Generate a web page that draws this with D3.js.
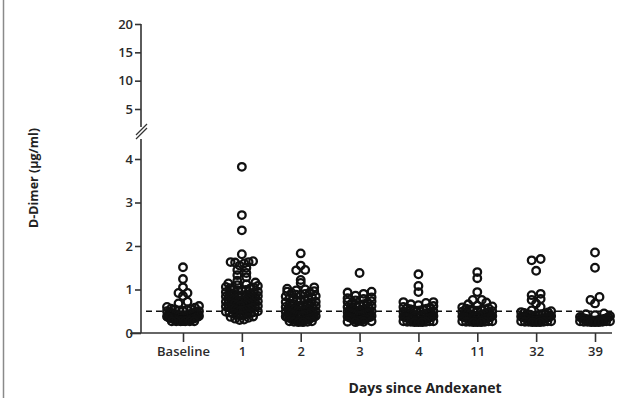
<!DOCTYPE html>
<html><head><meta charset="utf-8">
<script src="https://cdn.jsdelivr.net/npm/d3@7"></script>
<style>body{margin:0;background:#fff;overflow:hidden}</style></head><body>
<script>
const categories = ["Baseline","1","2","3","4","11","32","39"];
const baseline = [1.51,1.24,1.05,0.92,0.92,0.85,0.72,0.68,0.62,0.6,0.58,0.56,0.55,0.54,0.53,0.52,0.51,0.5,0.5,0.49,0.48,0.47,0.46,0.45,0.45,0.44,0.43,0.42,0.42,0.41,0.4,0.4,0.4,0.39,0.38,0.38,0.37,0.37,0.36,0.36,0.35,0.35,0.35,0.34,0.34,0.33,0.33,0.33,0.32,0.32,0.32,0.31,0.31,0.31,0.3,0.3,0.3,0.3,0.29,0.29,0.29,0.29,0.28,0.28,0.28,0.28,0.28,0.27,0.27,0.27,0.27,0.27,0.27];
const day1 = [3.82,2.71,2.36,1.81,1.65,1.63,1.63,1.62,1.6,1.55,1.5,1.45,1.38,1.33,1.28,1.2,1.16,1.14,1.12,1.1,1.08,1.06,1.05,1.03,1.02,1.0,0.99,0.98,0.97,0.95,0.94,0.93,0.92,0.9,0.89,0.88,0.87,0.86,0.85,0.84,0.83,0.82,0.81,0.8,0.8,0.79,0.78,0.77,0.76,0.75,0.74,0.73,0.72,0.71,0.7,0.7,0.69,0.68,0.67,0.66,0.65,0.64,0.63,0.62,0.61,0.6,0.59,0.58,0.57,0.56,0.55,0.54,0.53,0.52,0.51,0.5,0.49,0.48,0.47,0.46,0.45,0.44,0.42,0.41,0.4,0.38,0.37,0.35,0.33,0.31,0.3];
const day2 = [1.83,1.55,1.45,1.44,1.22,1.15,1.05,1.02,1.0,0.98,0.96,0.95,0.93,0.92,0.9,0.88,0.87,0.85,0.84,0.82,0.8,0.79,0.78,0.76,0.75,0.74,0.72,0.71,0.7,0.68,0.67,0.66,0.64,0.63,0.62,0.6,0.59,0.58,0.57,0.56,0.55,0.54,0.53,0.52,0.51,0.5,0.49,0.48,0.47,0.46,0.45,0.44,0.43,0.42,0.41,0.4,0.4,0.39,0.38,0.37,0.36,0.36,0.35,0.34,0.34,0.33,0.32,0.32,0.31,0.31,0.3,0.3,0.29,0.29,0.28,0.28,0.27,0.27,0.26,0.26,0.25,0.25];
const day3 = [1.38,0.95,0.93,0.9,0.86,0.82,0.8,0.78,0.75,0.73,0.72,0.7,0.68,0.66,0.65,0.63,0.62,0.6,0.58,0.57,0.56,0.55,0.54,0.52,0.51,0.5,0.49,0.48,0.47,0.46,0.45,0.44,0.43,0.42,0.41,0.4,0.4,0.39,0.38,0.37,0.37,0.36,0.35,0.35,0.34,0.33,0.33,0.32,0.31,0.31,0.3,0.3,0.29,0.28,0.28,0.27,0.26,0.26,0.25];
const day4 = [1.35,1.08,0.94,0.71,0.71,0.69,0.66,0.64,0.62,0.6,0.58,0.57,0.56,0.55,0.54,0.53,0.52,0.51,0.5,0.49,0.48,0.47,0.46,0.45,0.44,0.44,0.43,0.42,0.41,0.4,0.4,0.39,0.38,0.38,0.37,0.36,0.36,0.35,0.35,0.34,0.33,0.33,0.32,0.32,0.31,0.31,0.3,0.3,0.3,0.29,0.29,0.28,0.28,0.28,0.27,0.27,0.27,0.26,0.26,0.26,0.25,0.25,0.25];
const day11 = [1.4,1.26,0.94,0.76,0.76,0.7,0.66,0.63,0.61,0.59,0.57,0.56,0.55,0.54,0.53,0.52,0.51,0.5,0.49,0.48,0.47,0.46,0.45,0.44,0.43,0.42,0.41,0.4,0.4,0.39,0.38,0.38,0.37,0.36,0.36,0.35,0.35,0.34,0.33,0.33,0.32,0.32,0.31,0.31,0.3,0.3,0.3,0.29,0.29,0.28,0.28,0.28,0.27,0.27,0.27,0.26,0.26,0.26,0.25,0.25,0.25];
const day32 = [1.7,1.67,1.43,0.9,0.87,0.78,0.76,0.68,0.6,0.52,0.5,0.48,0.47,0.46,0.45,0.44,0.43,0.42,0.41,0.4,0.4,0.39,0.38,0.38,0.37,0.36,0.36,0.35,0.35,0.34,0.33,0.33,0.32,0.32,0.31,0.31,0.3,0.3,0.3,0.29,0.29,0.28,0.28,0.28,0.27,0.27,0.27,0.26,0.26,0.26,0.25,0.25,0.25];
const day39 = [1.85,1.5,0.83,0.76,0.68,0.45,0.43,0.41,0.39,0.37,0.36,0.35,0.34,0.34,0.33,0.33,0.32,0.32,0.31,0.31,0.3,0.3,0.3,0.29,0.29,0.28,0.28,0.28,0.27,0.27,0.27,0.26,0.26,0.26,0.25,0.25,0.25];
const series = [baseline, day1, day2, day3, day4, day11, day32, day39];
const upperTicks = [5,10,15,20];
const lowerTicks = [0,1,2,3,4];
const threshold = 0.5;
const yTitle = "D-Dimer (\u00b5g/ml)";
const xTitle = "Days since Andexanet";

const W = 620, H = 398;
const svg = d3.select("body").append("svg").attr("width", W).attr("height", H);
const font = "'Open Sans',sans-serif";
const axisX = 141, x0 = 141, x1 = 612;
const swarmHalf = [16, 16, 15, 12, 15, 15, 15, 15];

const x = d3.scalePoint().domain(categories).range([183, 595]);
const yLow = d3.scaleLinear().domain([0, 4]).range([333, 159]);
const yUp = d3.scaleLinear().domain([5, 20]).range([109, 24]);

svg.append("line").attr("x1",3.5).attr("x2",3.5).attr("y1",0).attr("y2",H)
  .attr("stroke","#8a8a8a").attr("stroke-width",1.5);

const axisColor = "#333";
function styleAxis(g){
  g.selectAll(".domain").remove();
  g.selectAll(".tick line").attr("stroke",axisColor).attr("stroke-width",1.6);
  g.selectAll(".tick text").attr("fill","#2a2a2a").style("font-family",font)
   .style("font-size","13px").style("font-weight","600");
}
const gUp = svg.append("g").attr("transform",`translate(${axisX},0)`)
  .call(d3.axisLeft(yUp).tickValues(upperTicks).tickFormat(d3.format("d")).tickSize(6).tickPadding(2));
styleAxis(gUp);
svg.append("line").attr("x1",axisX).attr("x2",axisX).attr("y1",yUp(20)).attr("y2",127)
  .attr("stroke",axisColor).attr("stroke-width",1.6);
const gLow = svg.append("g").attr("transform",`translate(${axisX},0)`)
  .call(d3.axisLeft(yLow).tickValues(lowerTicks).tickFormat(d3.format("d")).tickSize(6).tickPadding(2));
styleAxis(gLow);
gLow.selectAll(".tick").filter(d=>d===0).select("line").attr("x2",-11);
svg.append("line").attr("x1",axisX).attr("x2",axisX).attr("y1",139).attr("y2",333)
  .attr("stroke",axisColor).attr("stroke-width",1.6);
[0,4].forEach(o=>{
  svg.append("line").attr("x1",axisX-5).attr("y1",139-o).attr("x2",axisX+6).attr("y2",128-o)
    .attr("stroke",axisColor).attr("stroke-width",1.2);
});

const gx = svg.append("g").attr("transform","translate(0,333)")
  .call(d3.axisBottom(x).tickSize(9).tickPadding(5));
styleAxis(gx);
svg.append("line").attr("x1",x0-10).attr("x2",x1).attr("y1",333).attr("y2",333)
  .attr("stroke",axisColor).attr("stroke-width",1.6);

svg.append("line").attr("x1",146).attr("x2",612).attr("y1",yLow(threshold)).attr("y2",yLow(threshold))
  .attr("stroke","#111").attr("stroke-width",1.6).attr("stroke-dasharray","6,4");

// GraphPad-like scatter: bin by pixel rows, spread each row from the centre outwards
function spread(values, maxHalf){
  const binH = 5;
  const pts = values.map(v=>({v, y:yLow(v)}));
  const bins = d3.group(pts, p=>Math.floor((p.y-1)/binH));
  bins.forEach(arr=>{
    arr.sort((a,b)=>a.v-b.v);
    const n = arr.length;
    const sMax = n<=5 ? 9 : 4.5;
    const s = n>1 ? Math.min(sMax, 2*maxHalf/(n-1)) : 0;
    const slots = d3.range(n).map(k=>(k-(n-1)/2)*s)
      .sort((a,b)=>Math.abs(a)-Math.abs(b) || a-b);
    arr.forEach((p,k)=>{ p.dx = slots[k]; });
  });
  return pts;
}
const g = svg.append("g");
series.forEach((vals,i)=>{
  const pts = spread(vals, swarmHalf[i]);
  g.selectAll(null).data(pts).join("circle")
    .attr("cx",d=>x(categories[i])+d.dx).attr("cy",d=>d.y).attr("r",3.8)
    .attr("fill","none").attr("stroke","#111").attr("stroke-width",2.3);
});

svg.append("text").attr("transform","translate(38,178) rotate(-90)").attr("text-anchor","middle")
  .style("font-family",font).style("font-size","12.5px").style("font-weight","700").attr("fill","#222")
  .text(yTitle);
svg.append("text").attr("x",425).attr("y",393).attr("text-anchor","middle")
  .style("font-family",font).style("font-size","14px").style("font-weight","700").attr("fill","#222")
  .text(xTitle);
</script></body></html>
